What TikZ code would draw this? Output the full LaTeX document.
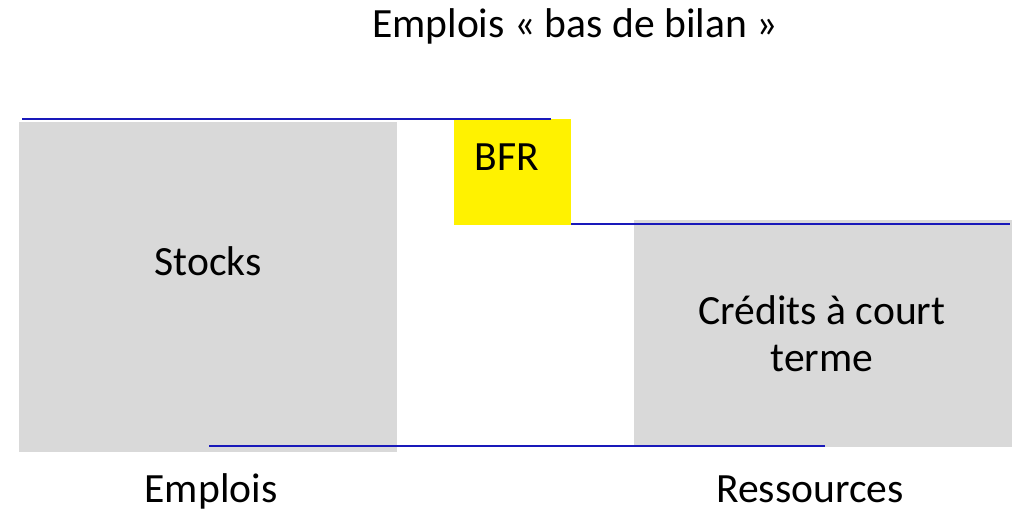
\documentclass[tikz,border=0pt]{standalone}
\usepackage{fontspec}
\setmainfont{Carlito}
\usetikzlibrary{positioning}

\begin{document}
\begin{tikzpicture}[
	x=0.5pt,
	y=-0.5pt,
	font=\fontsize{20.8pt}{23.5pt}\selectfont
]
\tikzset{
    graybox/.style = {rectangle, fill=gray!30, inner sep=0pt, anchor=north west},
    bfrbox/.style = {rectangle, fill=yellow, inner sep=0pt, anchor=north west},
    txt/.style = {align=center, inner sep=0pt},
    btxt/.style = {inner sep=0pt, anchor=base},
    bline/.style = {-, line width=1pt, draw=blue!70!black!90!white}
}
\useasboundingbox (0,0) rectangle (1014,509);
%
\node[graybox, minimum width=189pt, minimum height=165pt] at (19,122) (stocksbox) {};
\node[bfrbox, minimum width=58.5pt, minimum height=53pt] at (454,119) (bfrbox) {};
\node[graybox, minimum width=189pt, minimum height=113.5pt] at (634,220) (creditsbox) {};
%
\node[btxt] at (575,37) (titre) {Emplois « bas de bilan »};
\node[btxt] at (208,275) (stocks) {Stocks};
\node[btxt] at (507,170) (bfr) {BFR};
\node[txt] at (822,334) (credits) {Crédits à court\\terme};
\node[btxt] at (211,502) (emplois) {Emplois};
\node[btxt] at (810,502) (ressources) {Ressources};
%
\coordinate (h1) at (22,119);
\coordinate (h2) at (551,119);
\coordinate (m1) at (571,224);
\coordinate (m2) at (1010,224);
\coordinate (b1) at (209,446);
\coordinate (b2) at (825,446);
%
\draw[bline] (h1) -- (h2);
\draw[bline] (m1) -- (m2);
\draw[bline] (b1) -- (b2);
\end{tikzpicture}
\end{document}
